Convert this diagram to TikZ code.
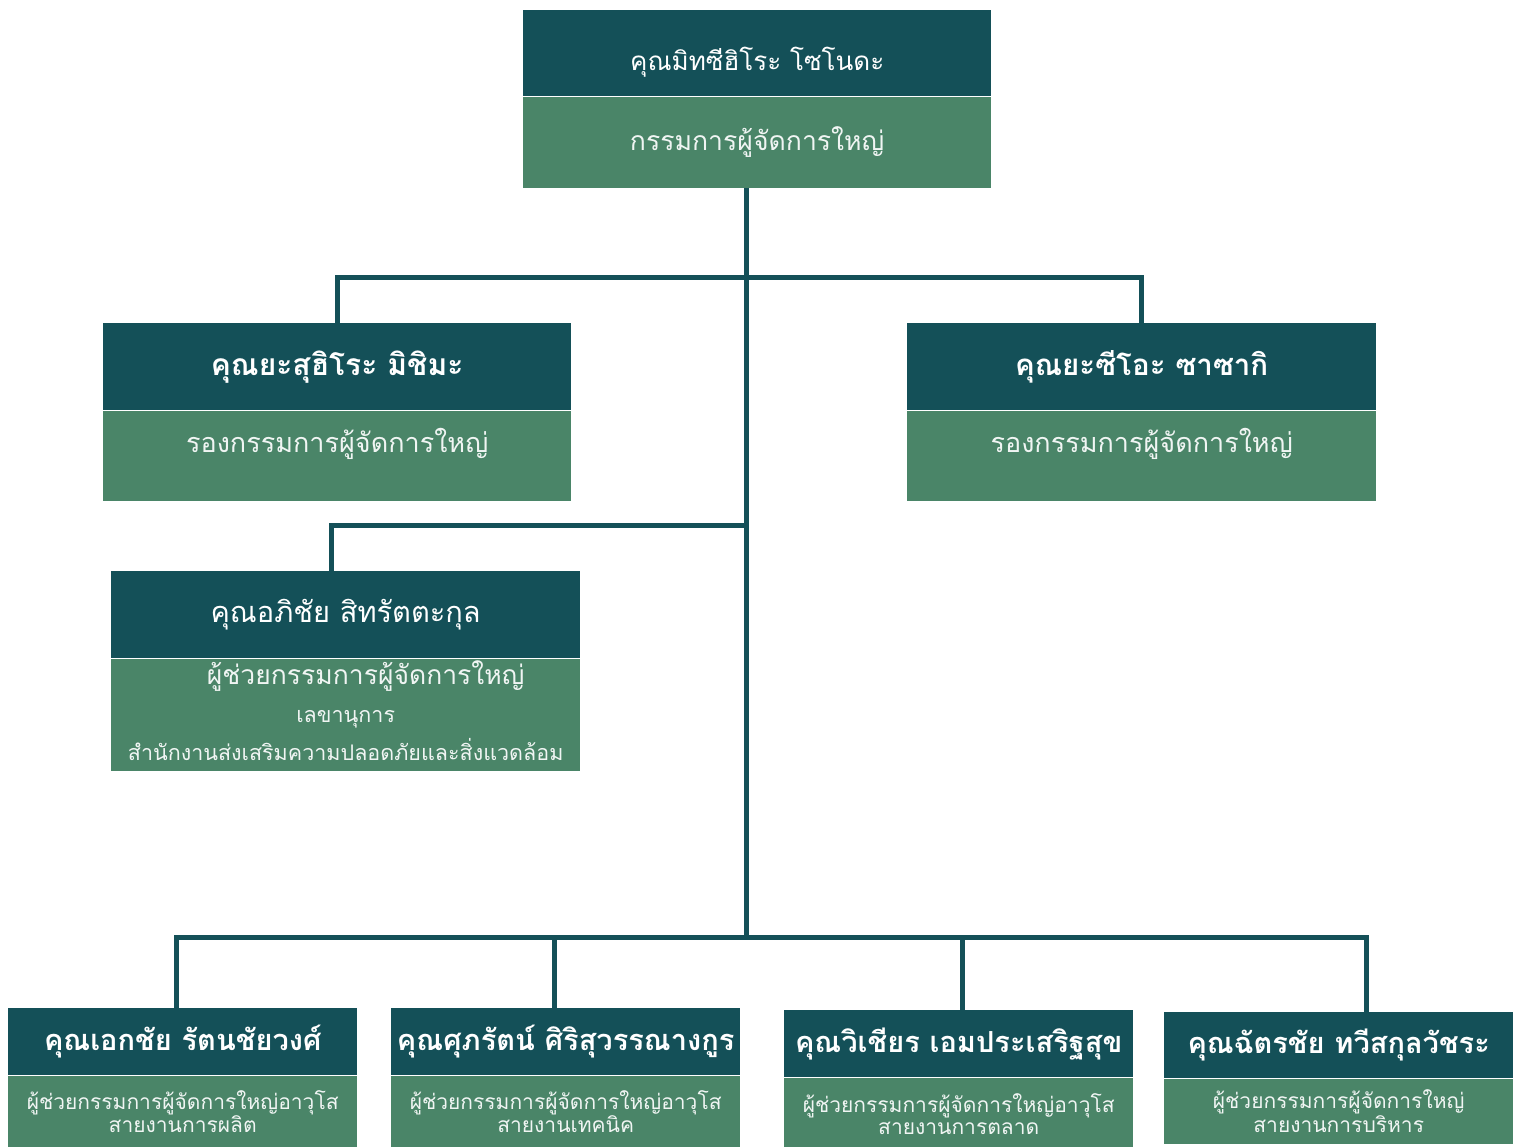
\documentclass[tikz,border=0pt]{standalone}
\usepackage{fontspec}
\newfontfamily\thaifont[Script=Thai]{Loma}
\definecolor{darkteal}{HTML}{145058}
\definecolor{midgreen}{HTML}{4A8568}
\tikzset{
  hdr/.style={fill=darkteal, text=white, anchor=north west, inner sep=0pt, align=center, font=\thaifont\fontsize{28}{32}\selectfont},
  bdy/.style={fill=midgreen, text=white!92!midgreen, anchor=north west, inner sep=0pt, align=center, font=\thaifont\fontsize{26}{30}\selectfont},
  link/.style={draw=darkteal, line width=5pt}
}
\begin{document}
\begin{tikzpicture}[x=1pt,y=-1pt]
\useasboundingbox (0,0) rectangle (1513,1147);
\clip (0,0) rectangle (1513,1147);
\fill[white] (0,0) rectangle (1513,1147);

\coordinate (jTop) at (746,278);
\coordinate (jMid) at (746,525);
\coordinate (jBot) at (746,937);
\coordinate (dA) at (331,525);
\coordinate (d1) at (176,937);
\coordinate (d2) at (554,937);
\coordinate (d3) at (962,937);
\coordinate (d4) at (1366,937);

% top
\node[hdr, minimum width=468pt, minimum height=86pt, font=\thaifont\fontsize{26}{30}\selectfont] (topH) at (523,10) {\raisebox{-17pt}[0pt][0pt]{คุณมิทซีฮิโระ โซโนดะ}};
\node[bdy, minimum width=468pt, minimum height=91pt, font=\thaifont\fontsize{26.6}{30}\selectfont] (topB) at (topH.south west) {กรรมการผู้จัดการใหญ่};

% VPs
\node[hdr, minimum width=468pt, minimum height=87pt, font=\thaifont\bfseries\fontsize{30}{34}\selectfont] (yasH) at (103,323) {คุณยะสุฮิโระ มิชิมะ};
\node[bdy, minimum width=468pt, minimum height=90pt, text depth=30pt, font=\thaifont\fontsize{27}{30}\selectfont] (yasB) at (yasH.south west) {รองกรรมการผู้จัดการใหญ่};

\node[hdr, minimum width=469pt, minimum height=87pt, font=\thaifont\bfseries\fontsize{29.5}{34}\selectfont] (sasH) at (907,323) {คุณยะซีโอะ ซาซากิ};
\node[bdy, minimum width=469pt, minimum height=90pt, text depth=30pt, font=\thaifont\fontsize{27}{30}\selectfont] (sasB) at (sasH.south west) {รองกรรมการผู้จัดการใหญ่};

% assistant
\node[hdr, minimum width=469pt, minimum height=87pt, font=\thaifont\fontsize{29}{32}\selectfont] (sitH) at (111,571) {คุณอภิชัย สิทรัตตะกุล};
\node[bdy, minimum width=469pt, minimum height=112pt, font=\thaifont\fontsize{26.5}{38}\selectfont, text depth=8pt] (sitB) at (sitH.south west) {\hspace*{40pt}ผู้ช่วยกรรมการผู้จัดการใหญ่\\{\fontsize{21.5}{38}\selectfont เลขานุการ}\\{\fontsize{21.5}{38}\selectfont สำนักงานส่งเสริมความปลอดภัยและสิ่งแวดล้อม}};

% bottom
\tikzset{bh/.style={hdr, minimum width=349pt, minimum height=67pt, font=\thaifont\bfseries\fontsize{29}{32}\selectfont},
         bb/.style={bdy, minimum width=349pt, minimum height=72pt, font=\thaifont\fontsize{21}{22}\selectfont}}
\node[bh] (ekH) at (8,1008) {คุณเอกชัย รัตนชัยวงศ์};
\node[bb] (ekB) at (ekH.south west) {ผู้ช่วยกรรมการผู้จัดการใหญ่อาวุโส\\สายงานการผลิต};
\node[bh] (suH) at (391,1008) {คุณศุภรัตน์ ศิริสุวรรณางกูร};
\node[bb] (suB) at (suH.south west) {ผู้ช่วยกรรมการผู้จัดการใหญ่อาวุโส\\สายงานเทคนิค};
\node[bh] (wiH) at (784,1010) {คุณวิเชียร เอมประเสริฐสุข};
\node[bb] (wiB) at (wiH.south west) {ผู้ช่วยกรรมการผู้จัดการใหญ่อาวุโส\\สายงานการตลาด};
\node[bh, minimum height=66pt] (chH) at (1164,1012) {คุณฉัตรชัย ทวีสกุลวัชระ};
\node[bb, minimum height=65pt] (chB) at (chH.south west) {ผู้ช่วยกรรมการผู้จัดการใหญ่\\สายงานการบริหาร};

% links
\draw[link] (jBot |- topB.south) -- (jBot);
\draw[link] (yasH.north) |- (jTop) -| (sasH.north);
\draw[link] (dA |- sitH.north) -- (dA) -- (jMid);
\draw[link] (d1 |- ekH.north) -- (d1) -- (d4) -- (d4 |- chH.north);
\draw[link] (d2 |- suH.north) -- (d2);
\draw[link] (d3 |- wiH.north) -- (d3);
\end{tikzpicture}
\end{document}
